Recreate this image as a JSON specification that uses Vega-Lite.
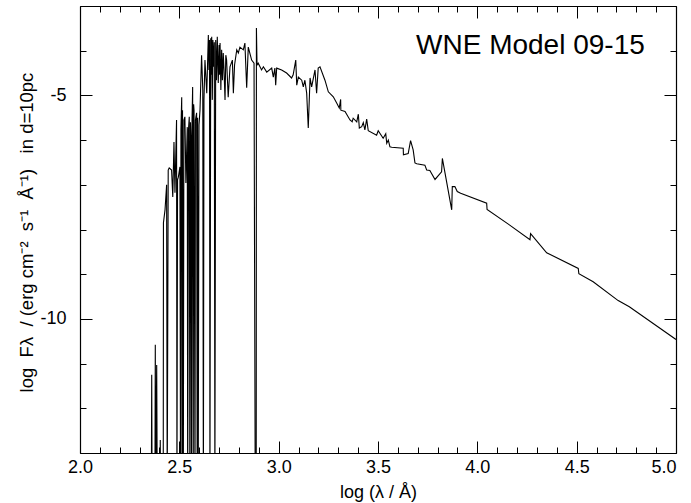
{
  "$schema": "https://vega.github.io/schema/vega-lite/v6.json",
  "width": 596,
  "height": 447,
  "autosize": {"type": "none"},
  "padding": {"left": 80, "top": 6, "right": 15, "bottom": 50},
  "background": "white",
  "config": {
    "view": {"stroke": null},
    "axis": {
      "grid": false,
      "domainColor": "black",
      "domainWidth": 1.2,
      "tickColor": "black",
      "tickWidth": 1,
      "labelColor": "black",
      "titleColor": "black",
      "labelFont": "Liberation Sans",
      "titleFont": "Liberation Sans",
      "labelFontSize": 18,
      "titleFontSize": 18,
      "titleFontWeight": "normal",
      "labelOverlap": false,
      "labelBound": false
    }
  },
  "data": {
    "values": [
      {"logLambda": 2.302, "logF": -14},
      {"logLambda": 2.359, "logF": -14}, {"logLambda": 2.361, "logF": -11.25}, {"logLambda": 2.363, "logF": -14},
      {"logLambda": 2.377, "logF": -14}, {"logLambda": 2.379, "logF": -10.58}, {"logLambda": 2.381, "logF": -14},
      {"logLambda": 2.386, "logF": -11.03}, {"logLambda": 2.389, "logF": -14},
      {"logLambda": 2.403, "logF": -14}, {"logLambda": 2.404, "logF": -12.71}, {"logLambda": 2.406, "logF": -14},
      {"logLambda": 2.419, "logF": -14}, {"logLambda": 2.420, "logF": -7.85}, {"logLambda": 2.428, "logF": -7.56},
      {"logLambda": 2.436, "logF": -7.00}, {"logLambda": 2.439, "logF": -14}, {"logLambda": 2.444, "logF": -6.67},
      {"logLambda": 2.449, "logF": -6.62}, {"logLambda": 2.461, "logF": -6.67}, {"logLambda": 2.467, "logF": -7.27},
      {"logLambda": 2.473, "logF": -6.04}, {"logLambda": 2.478, "logF": -7.18}, {"logLambda": 2.486, "logF": -5.55},
      {"logLambda": 2.488, "logF": -14}, {"logLambda": 2.491, "logF": -6.89}, {"logLambda": 2.495, "logF": -6.83},
      {"logLambda": 2.503, "logF": -6.60}, {"logLambda": 2.506, "logF": -14}, {"logLambda": 2.508, "logF": -5.77},
      {"logLambda": 2.512, "logF": -5.04}, {"logLambda": 2.514, "logF": -14}, {"logLambda": 2.516, "logF": -5.33},
      {"logLambda": 2.520, "logF": -14},
      {"logLambda": 2.523, "logF": -5.55}, {"logLambda": 2.528, "logF": -5.48}, {"logLambda": 2.533, "logF": -6.96},
      {"logLambda": 2.540, "logF": -5.71}, {"logLambda": 2.542, "logF": -14}, {"logLambda": 2.546, "logF": -5.77},
      {"logLambda": 2.550, "logF": -5.48}, {"logLambda": 2.553, "logF": -14}, {"logLambda": 2.556, "logF": -5.60},
      {"logLambda": 2.559, "logF": -6.00}, {"logLambda": 2.561, "logF": -14},
      {"logLambda": 2.564, "logF": -5.55}, {"logLambda": 2.567, "logF": -4.81}, {"logLambda": 2.570, "logF": -14},
      {"logLambda": 2.572, "logF": -5.20}, {"logLambda": 2.574, "logF": -5.33},
      {"logLambda": 2.579, "logF": -14}, {"logLambda": 2.581, "logF": -5.55}, {"logLambda": 2.587, "logF": -5.39},
      {"logLambda": 2.590, "logF": -14}, {"logLambda": 2.592, "logF": -5.50},
      {"logLambda": 2.595, "logF": -14}, {"logLambda": 2.599, "logF": -5.66}, {"logLambda": 2.604, "logF": -5.33},
      {"logLambda": 2.612, "logF": -4.10}, {"logLambda": 2.618, "logF": -4.88}, {"logLambda": 2.621, "logF": -14},
      {"logLambda": 2.624, "logF": -5.10}, {"logLambda": 2.629, "logF": -4.21}, {"logLambda": 2.638, "logF": -4.95},
      {"logLambda": 2.646, "logF": -3.65}, {"logLambda": 2.649, "logF": -4.43}, {"logLambda": 2.652, "logF": -3.76},
      {"logLambda": 2.654, "logF": -14}, {"logLambda": 2.658, "logF": -3.72}, {"logLambda": 2.661, "logF": -4.54},
      {"logLambda": 2.663, "logF": -3.69}, {"logLambda": 2.666, "logF": -5.10}, {"logLambda": 2.669, "logF": -3.76},
      {"logLambda": 2.672, "logF": -4.36}, {"logLambda": 2.676, "logF": -3.81}, {"logLambda": 2.679, "logF": -14},
      {"logLambda": 2.683, "logF": -3.76}, {"logLambda": 2.687, "logF": -4.66}, {"logLambda": 2.691, "logF": -3.69},
      {"logLambda": 2.696, "logF": -4.72}, {"logLambda": 2.700, "logF": -3.87}, {"logLambda": 2.702, "logF": -4.54},
      {"logLambda": 2.705, "logF": -3.83}, {"logLambda": 2.709, "logF": -4.88}, {"logLambda": 2.713, "logF": -3.98},
      {"logLambda": 2.717, "logF": -4.66}, {"logLambda": 2.721, "logF": -4.05}, {"logLambda": 2.725, "logF": -4.43},
      {"logLambda": 2.730, "logF": -5.10}, {"logLambda": 2.734, "logF": -4.10}, {"logLambda": 2.738, "logF": -4.21},
      {"logLambda": 2.746, "logF": -5.04}, {"logLambda": 2.755, "logF": -4.36}, {"logLambda": 2.767, "logF": -4.21},
      {"logLambda": 2.772, "logF": -4.95}, {"logLambda": 2.778, "logF": -4.32}, {"logLambda": 2.789, "logF": -3.98},
      {"logLambda": 2.797, "logF": -4.05}, {"logLambda": 2.805, "logF": -3.92}, {"logLambda": 2.822, "logF": -3.98},
      {"logLambda": 2.830, "logF": -3.83}, {"logLambda": 2.839, "logF": -4.83}, {"logLambda": 2.847, "logF": -3.92},
      {"logLambda": 2.864, "logF": -4.21}, {"logLambda": 2.876, "logF": -4.28}, {"logLambda": 2.882, "logF": -14},
      {"logLambda": 2.887, "logF": -14}, {"logLambda": 2.888, "logF": -3.49}, {"logLambda": 2.891, "logF": -4.32},
      {"logLambda": 2.897, "logF": -4.28}, {"logLambda": 2.914, "logF": -4.43}, {"logLambda": 2.923, "logF": -4.36},
      {"logLambda": 2.940, "logF": -4.48}, {"logLambda": 2.965, "logF": -4.39}, {"logLambda": 2.973, "logF": -4.59},
      {"logLambda": 2.981, "logF": -4.39}, {"logLambda": 2.985, "logF": -4.77}, {"logLambda": 2.990, "logF": -4.39},
      {"logLambda": 3.015, "logF": -4.43}, {"logLambda": 3.040, "logF": -4.50}, {"logLambda": 3.065, "logF": -4.61},
      {"logLambda": 3.073, "logF": -4.54}, {"logLambda": 3.086, "logF": -4.21}, {"logLambda": 3.091, "logF": -4.77},
      {"logLambda": 3.099, "logF": -4.59}, {"logLambda": 3.116, "logF": -4.66}, {"logLambda": 3.124, "logF": -4.81},
      {"logLambda": 3.132, "logF": -4.66}, {"logLambda": 3.141, "logF": -4.95}, {"logLambda": 3.149, "logF": -5.73},
      {"logLambda": 3.158, "logF": -4.61}, {"logLambda": 3.166, "logF": -4.81}, {"logLambda": 3.183, "logF": -4.43},
      {"logLambda": 3.191, "logF": -4.95}, {"logLambda": 3.199, "logF": -4.39}, {"logLambda": 3.208, "logF": -4.36},
      {"logLambda": 3.233, "logF": -4.66}, {"logLambda": 3.250, "logF": -4.92}, {"logLambda": 3.275, "logF": -5.03},
      {"logLambda": 3.292, "logF": -5.17}, {"logLambda": 3.305, "logF": -5.28}, {"logLambda": 3.312, "logF": -5.09},
      {"logLambda": 3.313, "logF": -5.33}, {"logLambda": 3.334, "logF": -5.36}, {"logLambda": 3.359, "logF": -5.55},
      {"logLambda": 3.370, "logF": -5.59}, {"logLambda": 3.375, "logF": -5.51}, {"logLambda": 3.393, "logF": -5.59},
      {"logLambda": 3.401, "logF": -5.42}, {"logLambda": 3.406, "logF": -5.73}, {"logLambda": 3.418, "logF": -5.70},
      {"logLambda": 3.426, "logF": -5.61}, {"logLambda": 3.434, "logF": -5.77}, {"logLambda": 3.443, "logF": -5.53},
      {"logLambda": 3.451, "logF": -5.79}, {"logLambda": 3.493, "logF": -5.89}, {"logLambda": 3.501, "logF": -5.79},
      {"logLambda": 3.526, "logF": -5.96}, {"logLambda": 3.539, "logF": -5.86}, {"logLambda": 3.544, "logF": -6.07},
      {"logLambda": 3.552, "logF": -6.00}, {"logLambda": 3.560, "logF": -6.15}, {"logLambda": 3.569, "logF": -6.16},
      {"logLambda": 3.627, "logF": -6.18}, {"logLambda": 3.628, "logF": -6.33}, {"logLambda": 3.652, "logF": -6.30},
      {"logLambda": 3.664, "logF": -6.01}, {"logLambda": 3.677, "logF": -6.22}, {"logLambda": 3.686, "logF": -6.51},
      {"logLambda": 3.695, "logF": -6.53}, {"logLambda": 3.736, "logF": -6.56}, {"logLambda": 3.745, "logF": -6.67},
      {"logLambda": 3.761, "logF": -6.68}, {"logLambda": 3.787, "logF": -6.88}, {"logLambda": 3.820, "logF": -6.71},
      {"logLambda": 3.824, "logF": -6.41}, {"logLambda": 3.871, "logF": -7.56}, {"logLambda": 3.874, "logF": -7.04},
      {"logLambda": 3.887, "logF": -7.04}, {"logLambda": 3.899, "logF": -7.15}, {"logLambda": 3.916, "logF": -7.19},
      {"logLambda": 4.047, "logF": -7.41}, {"logLambda": 4.049, "logF": -7.55}, {"logLambda": 4.156, "logF": -7.88},
      {"logLambda": 4.265, "logF": -8.23}, {"logLambda": 4.268, "logF": -8.09}, {"logLambda": 4.349, "logF": -8.52},
      {"logLambda": 4.508, "logF": -8.87}, {"logLambda": 4.511, "logF": -8.99}, {"logLambda": 4.583, "logF": -9.17},
      {"logLambda": 4.709, "logF": -9.59}, {"logLambda": 4.765, "logF": -9.73}, {"logLambda": 5.0, "logF": -10.46}
    ]
  },
  "layer": [
    {
      "mark": {"type": "line", "color": "black", "strokeWidth": 1.1, "clip": true},
      "encoding": {
        "x": {
          "field": "logLambda",
          "type": "quantitative",
          "scale": {"domain": [2, 5], "nice": false, "zero": false},
          "axis": {
            "orient": "bottom",
            "values": [2.0,2.1,2.2,2.3,2.4,2.5,2.6,2.7,2.8,2.9,3.0,3.1,3.2,3.3,3.4,3.5,3.6,3.7,3.8,3.9,4.0,4.1,4.2,4.3,4.4,4.5,4.6,4.7,4.8,4.9,5.0],
            "labelExpr": "abs(datum.value*2-round(datum.value*2))<0.000001 ? format(datum.value,'.1f') : ''",
            "tickSize": {"condition": {"test": "abs(datum.value*2-round(datum.value*2))<0.000001", "value": -12}, "value": -6},
            "labelAlign": {"condition": {"test": "datum.value>4.99", "value": "right"}, "value": "center"},
            "labelPadding": 17,
            "title": "log (λ / Å)",
            "titleFontSize": 18,
            "titleBaseline": "middle",
            "titleY": 39
          }
        },
        "y": {
          "field": "logF",
          "type": "quantitative",
          "scale": {"domain": [-13, -3], "nice": false, "zero": false},
          "axis": {
            "orient": "left",
            "values": [-13,-12,-11,-10,-9,-8,-7,-6,-5,-4,-3],
            "labelExpr": "datum.value == -5 ? '-5' : datum.value == -10 ? '-10' : ''",
            "tickSize": {"condition": {"test": "datum.value == -5 || datum.value == -10", "value": -12}, "value": -6},
            "labelPadding": 26,
            "title": "log\u00a0\u00a0F\u03bb\u00a0\u00a0/ (erg cm\u207b\u00b2\u00a0\u00a0s\u207b\u00b9\u00a0\u00a0\u00c5\u207b\u00b9)\u00a0\u00a0\u00a0in d=10pc",
            "titleFontSize": 18.5,
            "titleBaseline": "middle",
            "titleX": -54,
            "titleY": 226
          }
        }
      }
    },
    {
      "data": {"values": [{"label": "WNE Model 09-15"}]},
      "mark": {"type": "text", "align": "right", "baseline": "alphabetic", "fontSize": 28, "font": "Liberation Sans", "color": "black"},
      "encoding": {
        "x": {
          "datum": 4.843,
          "type": "quantitative",
          "axis": {
            "orient": "top",
            "values": [2.0,2.1,2.2,2.3,2.4,2.5,2.6,2.7,2.8,2.9,3.0,3.1,3.2,3.3,3.4,3.5,3.6,3.7,3.8,3.9,4.0,4.1,4.2,4.3,4.4,4.5,4.6,4.7,4.8,4.9,5.0],
            "labels": false,
            "title": null,
            "tickSize": {"condition": {"test": "abs(datum.value*2-round(datum.value*2))<0.000001", "value": -12}, "value": -6}
          }
        },
        "y": {
          "datum": -4.074,
          "type": "quantitative",
          "axis": {
            "orient": "right",
            "values": [-13,-12,-11,-10,-9,-8,-7,-6,-5,-4,-3],
            "labels": false,
            "title": null,
            "tickSize": {"condition": {"test": "datum.value == -5 || datum.value == -10", "value": -12}, "value": -6}
          }
        },
        "text": {"field": "label"}
      }
    }
  ],
  "resolve": {"axis": {"x": "independent", "y": "independent"}}
}
